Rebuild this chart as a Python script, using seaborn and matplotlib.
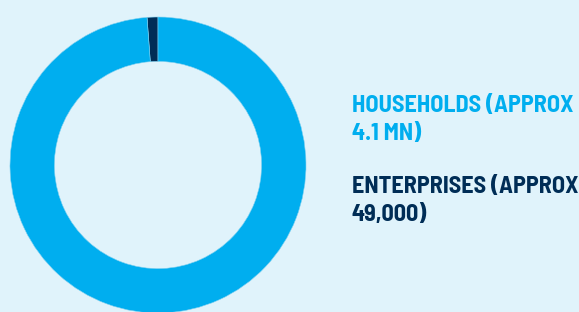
import matplotlib
matplotlib.use('Agg')
import matplotlib.pyplot as plt
import seaborn as sns

# data
labels = ['ENTERPRISES (APPROX\n49,000)', 'HOUSEHOLDS (APPROX\n4.1 MN)']
values = [49000, 4100000]
colors = ['#002D56', '#00AEEF']
bg = '#E0F3FB'

sns.set_theme(style='white', rc={'figure.facecolor': bg, 'axes.facecolor': bg})
plt.rcParams['font.family'] = ['Barlow Semi Condensed', 'DejaVu Sans']

W, H = 579, 312
fig = plt.figure(figsize=(W / 100, H / 100), dpi=100)

# donut, centre (158,165) px, radius 148 px
cx, cy, r = 158, 165, 148
ax = fig.add_axes([(cx - r) / W, (H - cy - r) / H, 2 * r / W, 2 * r / H])
ax.pie(values, colors=colors, startangle=90, counterclock=True,
       radius=1, wedgeprops=dict(width=0.3, edgecolor='#7fd0f0', linewidth=0.4))
ax.set_xlim(-1, 1)
ax.set_ylim(-1, 1)
ax.axis('off')

# labels on the right (baseline = last line)
fig.text(352 / W, 1 - 140 / H, labels[1], color=colors[1], fontsize=17.4,
         fontweight='bold', va='baseline', ha='left', linespacing=1.38)
fig.text(352 / W, 1 - 221 / H, labels[0], color=colors[0], fontsize=17.4,
         fontweight='bold', va='baseline', ha='left', linespacing=1.38)

fig.savefig('out.png', dpi=100, facecolor=bg)
